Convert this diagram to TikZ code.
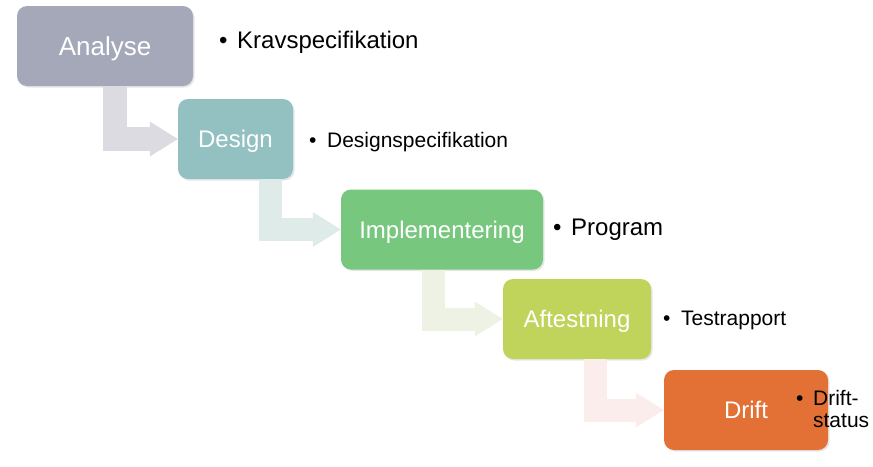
\documentclass[tikz,border=0pt]{standalone}
\usepackage{fontspec}
\setmainfont{Liberation Sans}
\usetikzlibrary{arrows.meta,calc,shadows}
\definecolor{analysecol}{HTML}{A5A8B9}
\definecolor{designcol}{HTML}{93C1C2}
\definecolor{implcol}{HTML}{77C77E}
\definecolor{testcol}{HTML}{C0D35B}
\definecolor{driftcol}{HTML}{E37135}
\definecolor{flowa}{HTML}{DCDBE2}
\definecolor{flowb}{HTML}{DEEBE8}
\definecolor{flowc}{HTML}{EEF2E4}
\definecolor{flowd}{HTML}{FBEDEB}
\begin{document}
\begin{tikzpicture}[x=1pt, y=-1pt,
  phase/.style={rectangle, rounded corners=10pt, minimum height=80pt, inner sep=0pt, text=white,
    font=\fontsize{24}{28}\selectfont, text height=17.2pt, text depth=0pt,
    drop shadow={shadow xshift=1.5pt, shadow yshift=-1.5pt, opacity=0.2}},
  result/.style={anchor=base west, inner sep=0pt, font=\fontsize{21}{22}\selectfont},
  flow/.style={line width=23pt, line join=miter, -{Triangle[length=28pt, width=35pt, line width=0pt]}}]
\useasboundingbox (0,0) rectangle (873,466);
\node[phase, fill=analysecol, minimum width=176pt, font=\fontsize{26}{30}\selectfont, text height=18.6pt] (analyse) at (105,46) {Analyse};
\node[phase, fill=designcol, minimum width=115pt] (design) at (235.5,139) {Design};
\node[phase, fill=implcol, minimum width=202pt] (impl) at (442,229.5) {Implementering};
\node[phase, fill=testcol, minimum width=148pt] (test) at (577,319) {Aftestning};
\node[phase, fill=driftcol, minimum width=164pt] (drift) at (746,410) {Drift};
\draw[flow, flowa, line width=24pt] ($(analyse.south west)+(98,0)$) |- (design.west);
\draw[flow, flowb] ($(design.south west)+(93,0)$) |- (impl.west);
\draw[flow, flowc] ($(impl.south west)+(93,0)$) |- (test.west);
\draw[flow, flowd] ($(test.south west)+(93,0)$) |- (drift.west);
\node[result, font=\fontsize{24}{26}\selectfont] (krav) at (219,48) {\textbullet\hspace{9.6pt}Kravspecifikation};
\node[result] (designspec) at (309,147) {\textbullet\hspace{10.6pt}Designspecifikation};
\node[result, font=\fontsize{24}{26}\selectfont] (program) at (553,235) {\textbullet\hspace{9.6pt}Program};
\node[result] (rapport) at (663,325) {\textbullet\hspace{10.6pt}Testrapport};
\node[result] (status) at (796,405) {\textbullet\hspace{9.6pt}\begin{tabular}[t]{@{}l@{}}Drift-\\status\end{tabular}};
\end{tikzpicture}
\end{document}
